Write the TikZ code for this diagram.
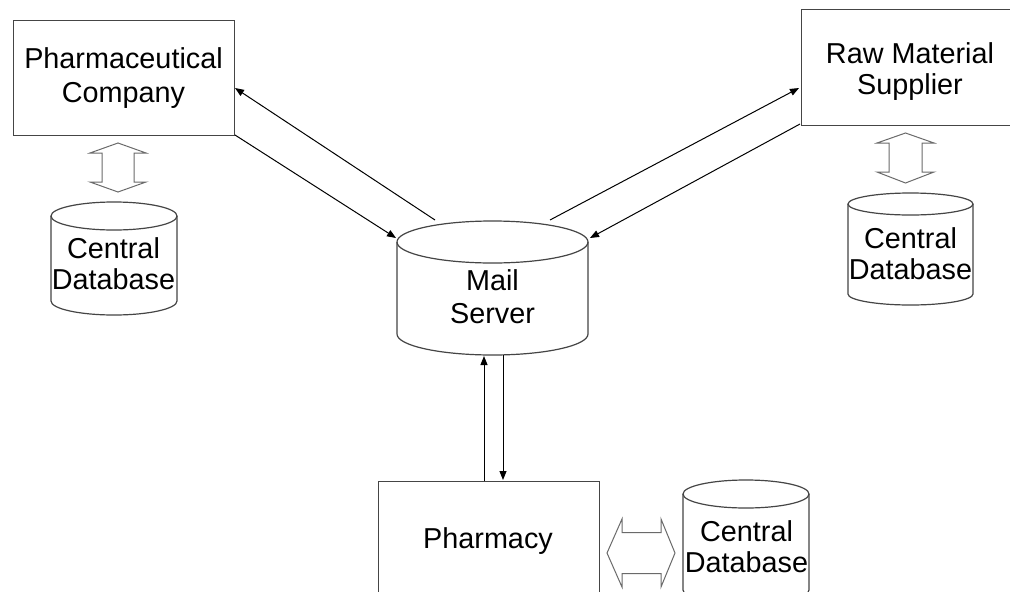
\documentclass[tikz,border=0pt]{standalone}
\usepackage{fontspec}
\setmainfont{Liberation Sans}
\usetikzlibrary{arrows.meta}
\definecolor{boxgray}{HTML}{454545}
\definecolor{dblgray}{HTML}{6A6A6A}
\newcommand\dbcyl[5]{%
  \draw[cyl,fill=white] (#1-#4,#2) -- (#1-#4,#3)
     arc[start angle=180,end angle=0,x radius=#4,y radius=#5] -- (#1+#4,#2);
  \draw[cyl] (#1,#2) ellipse[x radius=#4,y radius=#5];}
\begin{document}
\begin{tikzpicture}[x=1pt,y=-1pt,
  box/.style={draw=boxgray,line width=1.3pt,fill=white,inner sep=0pt,anchor=north west},
  cyl/.style={draw=boxgray,line width=1.2pt},
  lbl/.style={font=\fontsize{28.8}{33}\selectfont,align=center,inner sep=0pt,anchor=base},
  conn/.style={-{Triangle[length=9pt,width=7pt]},line width=1pt,draw=black},
  dbl/.style={draw=dblgray,line width=1pt,fill=white,line join=miter}]
\useasboundingbox (0,0) rectangle (1010,592);
\fill[white] (0,0) rectangle (1010,592);
\clip (0,0) rectangle (1010,592);

% boxes
\node[box,minimum width=221pt,minimum height=115pt] (pc) at (13,20) {};
\node[box,minimum width=218pt,minimum height=116pt] (rm) at (801,9) {};
\node[box,minimum width=221pt,minimum height=116pt] (ph) at (378,481) {};

% cylinders
\dbcyl{114}{216}{301}{63}{14}
\dbcyl{492.5}{242}{334}{95.5}{21}
\dbcyl{910.5}{204}{294}{62.5}{11}
\dbcyl{746}{494}{590}{63}{14}

% labels (anchor = baseline of the last line)
\node[lbl] (pct) at (123.5,102) {Pharmaceutical\\[1pt]Company};
\node[lbl] (rmt) at (910,94) {Raw Material\\[-2pt]Supplier};
\node[lbl] (pht) at (488,548) {Pharmacy};
\node[lbl] (mst) at (492.5,323) {Mail\\[0pt]Server};
\node[lbl] (db1) at (113.5,289) {Central\\[-2pt]Database};
\node[lbl] (db2) at (910.5,279) {Central\\[-2pt]Database};
\node[lbl] (db3) at (746.5,572) {Central\\[-2pt]Database};

% connector end points
\coordinate (p1) at (235,88);
\coordinate (p2) at (235,135);
\coordinate (r1) at (799,88);
\coordinate (r2) at (800,124);
\coordinate (m1) at (435,220);
\coordinate (m2) at (396,238);
\coordinate (m3) at (550,220);
\coordinate (m4) at (590,238);
\coordinate (m5) at (484,356);
\coordinate (m6) at (503,355);
\coordinate (f1) at (484,481);
\coordinate (f2) at (503,480);

\draw[conn] (m1) -- (p1);
\draw[conn] (p2) -- (m2);
\draw[conn] (m3) -- (r1);
\draw[conn] (r2) -- (m4);
\draw[conn] (f1) -- (m5);
\draw[conn] (m6) -- (f2);

% double arrows
\draw[dbl] (118,143) -- (146,153) -- (134,153) -- (134,182) -- (146,182)
  -- (118,192) -- (90,182) -- (102,182) -- (102,153) -- (90,153) -- cycle;
\draw[dbl] (905.5,133) -- (934,143) -- (922,143) -- (922,172) -- (934,172)
  -- (905.5,183) -- (877,172) -- (889,172) -- (889,143) -- (877,143) -- cycle;
\draw[dbl] (607,553) -- (622,519) -- (622,532.5) -- (661,532.5) -- (661,519)
  -- (675,553) -- (661,587) -- (661,573.5) -- (622,573.5) -- (622,587) -- cycle;
\end{tikzpicture}
\end{document}
